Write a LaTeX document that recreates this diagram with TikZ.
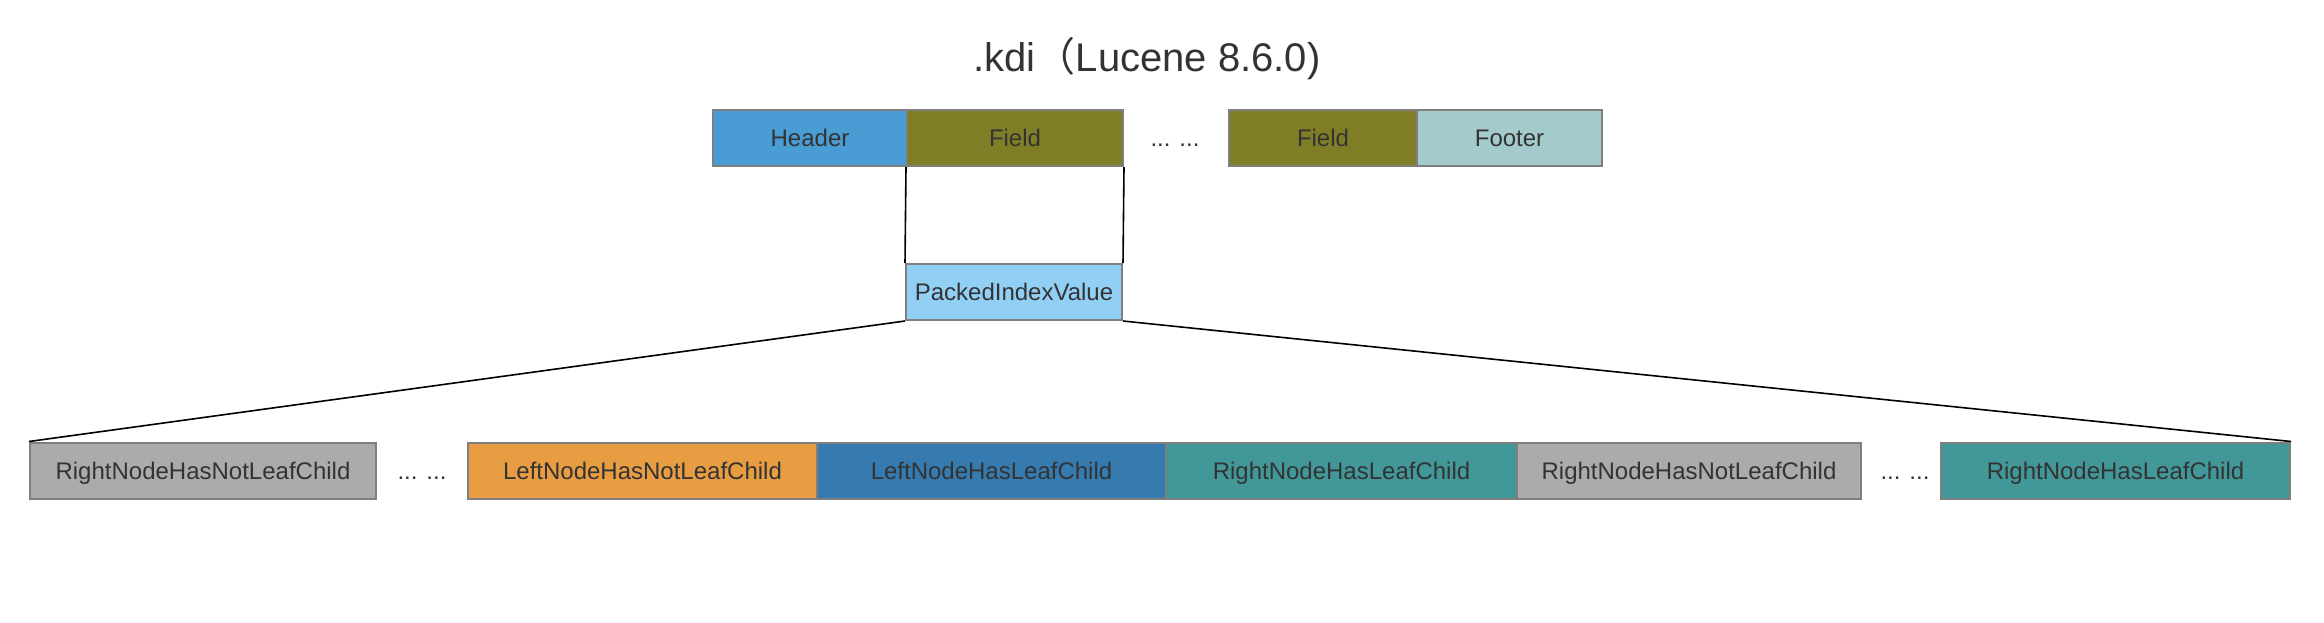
\documentclass[tikz,border=0pt]{standalone}
\usepackage{fontspec}
\setmainfont{Liberation Sans}
\newfontfamily\cjk{Noto Sans CJK SC}
\usetikzlibrary{positioning}

\definecolor{hdrblue}{RGB}{74,156,213}
\definecolor{fldolive}{RGB}{128,125,39}
\definecolor{ftrcyan}{RGB}{164,203,203}
\definecolor{pivblue}{RGB}{145,208,244}
\definecolor{nodegray}{RGB}{171,171,171}
\definecolor{nodeorange}{RGB}{233,157,66}
\definecolor{nodeblue}{RGB}{54,123,176}
\definecolor{nodeteal}{RGB}{66,151,152}
\definecolor{txtgray}{RGB}{51,51,51}
\definecolor{edgegray}{RGB}{127,127,127}

\tikzset{
  blk/.style={draw=edgegray,line width=1pt,inner sep=0pt,minimum height=28pt,
    text=txtgray,font=\fontsize{12}{14}\selectfont,text height=9pt,text depth=0.5pt},
  dots/.style={text=txtgray,font=\fontsize{12}{14}\selectfont,inner sep=0pt,
    text height=9pt,text depth=0.5pt},
  link/.style={line width=0.8pt,black}
}

\begin{document}
\begin{tikzpicture}[x=0.5pt,y=-0.5pt]
\useasboundingbox (0,0) rectangle (2324,622);
\node[text=txtgray,font=\fontsize{20}{24}\selectfont] (title) at (1147,59) {.kdi{\cjk （}Lucene 8.6.0)};
% file layout
\node[blk,fill=hdrblue,minimum width=97pt] (hdr) at (810,138) {Header};
\node[blk,fill=fldolive,minimum width=108pt] (fld1) at (1015,138) {Field};
\node[dots] (d0) at (1175,138) {... ...};
\node[blk,fill=fldolive,minimum width=94pt] (fld2) at (1323,138) {Field};
\node[blk,fill=ftrcyan,minimum width=92.5pt] (ftr) at (1509.5,138) {Footer};
% field
\node[blk,fill=pivblue,minimum width=108pt] (piv) at (1014,292) {PackedIndexValue};
\draw[link] (fld1.south west) -- (piv.north west);
\draw[link] (fld1.south east) -- (piv.north east);
% packed index
\node[blk,fill=nodegray,minimum width=173pt] (r1) at (203,470.5) {RightNodeHasNotLeafChild};
\node[dots] (d1) at (422,470.5) {... ...};
\node[blk,fill=nodeorange,minimum width=174.5pt] (l1) at (642.5,470.5) {LeftNodeHasNotLeafChild};
\node[blk,fill=nodeblue,minimum width=174.5pt] (l2) at (991.5,470.5) {LeftNodeHasLeafChild};
\node[blk,fill=nodeteal,minimum width=175.5pt] (r2) at (1341.5,470.5) {RightNodeHasLeafChild};
\node[blk,fill=nodegray,minimum width=172pt] (r3) at (1689,470.5) {RightNodeHasNotLeafChild};
\node[dots] (d2) at (1905,470.5) {... ...};
\node[blk,fill=nodeteal,minimum width=174.5pt] (r4) at (2115.5,470.5) {RightNodeHasLeafChild};
\draw[link] (piv.south west) -- (r1.north west);
\draw[link] (piv.south east) -- (r4.north east);
\end{tikzpicture}
\end{document}
